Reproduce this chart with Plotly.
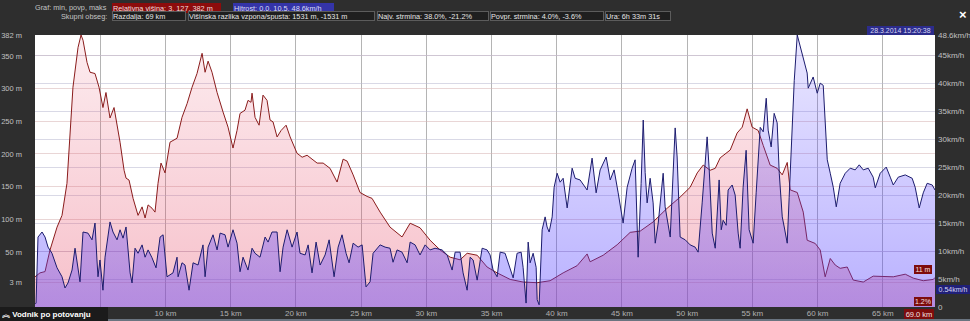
import plotly.graph_objects as go

# ---------------- data ----------------
elev_km = [0.0, 0.38, 0.77, 1.15, 1.69, 2.07, 2.45, 2.68, 2.91, 3.30, 3.53, 3.68, 3.99, 4.22, 4.60,
           4.91, 5.21, 5.44, 5.75, 6.06, 6.52, 6.83, 6.98, 7.21, 7.52, 7.90, 8.21, 8.44, 8.67, 8.97,
           9.20, 9.43, 9.66, 9.97, 10.35, 10.89, 11.27, 11.66, 12.04, 12.42, 12.81, 13.04, 13.27,
           13.57, 13.96, 14.42, 14.80, 15.18, 15.49, 15.72, 16.10, 16.33, 16.56, 16.64, 16.87,
           17.18, 17.48, 17.79, 18.02, 18.25, 18.56, 18.87, 19.25, 19.56, 20.09, 20.48, 20.86,
           21.63, 22.09, 22.62, 23.16, 23.62, 23.93, 24.39, 24.92, 25.46, 25.84, 26.46, 27.22,
           28.14, 28.76, 29.52, 30.29, 31.06, 31.83, 32.59, 33.13, 33.90, 34.66, 35.43, 36.43,
           37.42, 38.50, 39.49, 40.49, 41.56, 42.33, 42.56, 43.56, 44.63, 45.63, 46.40, 47.39,
           48.47, 49.46, 50.23, 50.77, 51.23, 51.76, 52.15, 52.53, 53.30, 53.83, 54.22, 54.60,
           54.98, 55.44, 55.83, 56.36, 56.90, 57.29, 57.67, 57.90, 58.44, 58.90, 59.20, 59.82,
           60.20, 60.58, 60.97, 61.35, 61.73, 62.27, 62.73, 63.50, 64.26, 65.03, 65.80, 66.72,
           67.33, 68.10, 68.87, 69.0]
elev_m = [12, 18, 20, 53, 88, 106, 155, 236, 302, 363, 382, 374, 340, 325, 323,
          302, 271, 294, 255, 271, 218, 175, 163, 160, 132, 106, 119, 102, 122, 117,
          111, 155, 186, 171, 218, 224, 256, 277, 302, 323, 354, 325, 342,
          325, 294, 264, 241, 209, 236, 262, 267, 282, 279, 293, 256,
          244, 290, 282, 252, 249, 226, 236, 244, 226, 201, 195, 198,
          186, 186, 178, 157, 192, 189, 168, 141, 135, 132, 111, 88,
          73, 94, 87, 68, 53, 42, 38, 48, 45, 27, 18, 8,
          4, 3, 6, 18, 29, 47, 35, 45, 61, 80, 82, 96,
          117, 134, 149, 171, 183, 175, 178, 194, 206, 232, 241, 269,
          241, 236, 213, 183, 178, 168, 187, 145, 141, 111, 68, 63,
          53, 12, 40, 30, 25, 27, 7, 4, 13, 12, 12, 16,
          10, 6, 8, 11]

speed_km = [0.0, 0.08, 0.23, 0.54, 0.77, 1.00, 1.30, 1.69, 2.07, 2.30, 2.53, 2.84, 3.07, 3.22, 3.45,
            3.68, 4.06, 4.37, 4.60, 4.75, 4.83, 4.98, 5.21, 5.37, 5.75, 5.98, 6.29, 6.52, 6.75,
            6.98, 7.29, 7.44, 7.67, 7.90, 8.21, 8.44, 8.67, 8.97, 9.28, 9.59, 9.82, 10.12, 10.35,
            10.58, 10.89, 10.97, 11.27, 11.50, 11.81, 12.12, 12.50, 12.88, 13.04, 13.27, 13.65,
            13.96, 14.19, 14.57, 14.80, 15.18, 15.49, 15.72, 15.95, 16.33, 16.64, 16.87, 17.25,
            17.64, 17.87, 18.17, 18.56, 18.79, 19.02, 19.33, 19.71, 20.09, 20.32, 20.71, 20.94,
            21.24, 21.55, 21.86, 22.24, 22.55, 22.93, 23.24, 23.54, 23.85, 24.08, 24.39, 24.77,
            25.08, 25.38, 25.69, 25.92, 26.46, 26.84, 27.22, 27.45, 27.76, 28.14, 28.53, 28.76,
            29.14, 29.52, 29.91, 30.29, 30.67, 31.21, 31.60, 31.98, 32.21, 32.59, 32.82, 33.13,
            33.36, 33.59, 33.90, 34.28, 34.66, 34.89, 35.12, 35.43, 35.66, 36.04, 36.27, 36.66,
            36.96, 37.27, 37.42, 37.65, 37.81, 37.96, 38.19, 38.42, 38.50, 38.65, 38.88, 39.11,
            39.26, 39.42, 39.65, 39.80, 40.03, 40.26, 40.49, 40.80, 41.18, 41.41, 41.79, 42.33,
            42.71, 43.02, 43.33, 43.79, 44.10, 44.40, 44.71, 45.09, 45.40, 45.78, 46.01, 46.24,
            46.47, 46.63, 46.78, 46.93, 47.16, 47.39, 47.55, 47.78, 48.16, 48.31, 48.70, 48.93,
            49.08, 49.23, 49.46, 49.85, 50.23, 50.61, 50.84, 51.15, 51.53, 51.69, 51.92, 52.15,
            52.45, 52.61, 52.76, 52.99, 53.14, 53.45, 53.68, 53.91, 54.06, 54.29, 54.52, 54.75,
            55.06, 55.29, 55.60, 55.83, 56.06, 56.21, 56.44, 56.67, 56.90, 57.06, 57.29, 57.44,
            57.67, 57.82, 58.05, 58.21, 58.44, 58.67, 58.90, 59.20, 59.28, 59.51, 59.66, 59.97,
            60.20, 60.43, 60.74, 60.97, 61.20, 61.43, 61.73, 62.12, 62.50, 62.88, 63.19, 63.50,
            63.88, 64.26, 64.42, 64.80, 65.26, 65.57, 65.80, 66.18, 66.72, 67.25, 67.48, 67.79,
            68.10, 68.40, 68.79, 69.00]
speed_kmh = [0.5, 0.7, 12.5, 13.4, 12.5, 10.7, 9.6, 7.0, 5.4, 3.4, 4.3, 6.6, 10.5, 7.9, 4.5,
             13.4, 13.2, 12.0, 15.0, 8.4, 5.4, 8.4, 3.0, 8.9, 15.2, 13.4, 12.0, 13.8, 12.3,
             14.3, 6.1, 4.3, 10.5, 9.6, 11.1, 8.9, 10.2, 8.8, 7.0, 12.5, 12.9, 5.4, 5.7,
             6.1, 8.9, 5.4, 7.9, 7.5, 3.0, 7.9, 7.5, 11.1, 5.4, 10.7, 12.9,
             10.2, 13.2, 12.9, 10.7, 13.8, 11.4, 6.3, 8.9, 6.6, 10.5, 9.6, 8.9,
             12.5, 11.6, 13.4, 13.4, 6.3, 10.7, 13.8, 10.7, 13.4, 9.6, 9.3, 11.1,
             6.1, 11.6, 7.5, 9.3, 12.0, 5.4, 10.7, 12.9, 9.6, 7.9, 11.4, 10.7,
             11.1, 3.6, 4.5, 9.6, 11.1, 10.7, 10.5, 8.0, 10.2, 9.8, 7.9, 11.6,
             11.1, 9.3, 11.1, 10.2, 10.5, 10.2, 9.3, 6.6, 9.8, 9.8, 6.1, 3.0,
             8.9, 8.4, 4.8, 10.5, 10.2, 9.3, 6.6, 5.4, 9.8, 9.6, 8.0, 5.2,
             9.6, 9.8, 7.1, 0.7, 11.6, 7.9, 9.6, 7.1, 1.3, 0.4, 13.8, 16.1,
             14.3, 13.4, 16.1, 21.4, 23.9, 22.3, 23.0, 17.7, 24.8, 23.0, 22.7, 20.9,
             26.6, 20.4, 24.5, 26.8, 22.7, 24.5, 20.4, 15.0, 21.4, 24.8, 26.3, 8.9,
             22.1, 33.4, 24.0, 18.6, 23.0, 18.6, 11.4, 15.0, 23.9, 17.9, 12.5, 24.5,
             32.0, 26.8, 12.5, 12.0, 11.1, 10.7, 9.8, 18.6, 30.4, 24.5, 13.2, 10.5,
             22.7, 13.8, 15.5, 14.6, 20.9, 21.8, 20.0, 13.2, 10.5, 21.4, 28.0, 13.8,
             11.4, 20.4, 32.1, 31.3, 37.3, 31.6, 28.6, 34.6, 32.9, 23.9, 16.1, 14.3,
             11.4, 19.6, 31.6, 40.5, 48.6, 46.4, 44.6, 41.8, 39.1, 40.5, 41.1, 38.2,
             40.0, 39.6, 26.3, 23.9, 21.4, 17.9, 22.1, 23.9, 24.8, 24.5, 25.4, 24.5,
             24.8, 23.2, 21.3, 23.9, 25.0, 23.2, 21.8, 23.2, 23.6, 23.0, 21.4, 17.7,
             20.4, 22.1, 21.8, 20.9]

elev_ticks = [3, 50, 100, 150, 200, 250, 300, 350, 382]
elev_ticktext = ["3 m", "50 m", "100 m", "150 m", "200 m", "250 m", "300 m", "350 m", "382 m"]
speed_ticks = [0, 5, 10, 15, 20, 25, 30, 35, 40, 45, 48.6]
speed_ticktext = ["0", "5km/h", "10km/h", "15km/h", "20km/h", "25km/h", "30km/h", "35km/h",
                  "40km/h", "45km/h", "48.6km/h"]
km_ticks = [5, 10, 15, 20, 25, 30, 35, 40, 45, 50, 55, 60, 65]
# the 5 km label sits under the "Vodnik po potovanju" button in the original
km_ticktext = [""] + [f"{k} km" for k in km_ticks[1:]]

ELEV_RANGE = [-34.2, 382]
SPEED_RANGE = [0, 48.6]
KM_RANGE = [0, 69]

# ---------------- figure ----------------
W, H = 970, 321
ML, MR, MT, MB = 35, 35, 35, 14
PW, PH = W - ML - MR, H - MT - MB
FONT = "Liberation Sans, Arial, Noto Sans CJK SC, sans-serif"
BG = "#2e2e2e"

fig = go.Figure()

# baseline for elevation fill (bottom of the elevation axis)
fig.add_trace(go.Scatter(x=[KM_RANGE[0], KM_RANGE[1]], y=[ELEV_RANGE[0], ELEV_RANGE[0]],
                         mode="lines", line=dict(width=0), hoverinfo="skip", showlegend=False))
fig.add_trace(go.Scatter(
    x=elev_km, y=elev_m, mode="lines", fill="tonexty",
    line=dict(color="#8a1c1c", width=1),
    fillgradient=dict(type="vertical",
                      colorscale=[[0, "rgba(230,70,100,0.34)"], [1, "rgba(230,70,100,0.10)"]]),
    showlegend=False, name="Relativna višina"))

fig.add_trace(go.Scatter(
    x=speed_km, y=speed_kmh, mode="lines", fill="tozeroy", yaxis="y2",
    line=dict(color="#1c1c6e", width=1),
    fillgradient=dict(type="vertical",
                      colorscale=[[0, "rgba(80,60,255,0.40)"], [1, "rgba(80,60,255,0.12)"]]),
    showlegend=False, name="Hitrost"))

fig.update_layout(
    width=W, height=H,
    margin=dict(l=ML, r=MR, t=MT, b=MB, pad=0, autoexpand=False),
    paper_bgcolor=BG, plot_bgcolor="white",
    font=dict(family=FONT, size=8, color="#c4c4c4"),
    showlegend=False,
    xaxis=dict(range=KM_RANGE, tickvals=km_ticks, ticktext=km_ticktext, automargin=False,
               showgrid=True, gridcolor="#b4b4b4", gridwidth=1, zeroline=False,
               showline=False, ticks="", tickfont=dict(size=8, color="#b0b0b0"),
               ticklabelstandoff=0),
    yaxis=dict(range=ELEV_RANGE, tickvals=elev_ticks, ticktext=elev_ticktext, automargin=False,
               showgrid=True, gridcolor="rgba(215,180,180,0.55)", gridwidth=1, zeroline=False,
               showline=False, ticks="", tickfont=dict(size=7.5, color="#c0c0c0"),
               ticklabelstandoff=12),
    yaxis2=dict(range=SPEED_RANGE, tickvals=speed_ticks, ticktext=speed_ticktext,
                overlaying="y", side="right", automargin=False,
                showgrid=True, gridcolor="rgba(185,185,210,0.55)", gridwidth=1, zeroline=False,
                showline=False, ticks="", tickfont=dict(size=8, color="#c0c0c0"),
                ticklabelstandoff=2),
)


def px(x):
    return (x - ML) / PW


def py(y):
    return (H - MB - y) / PH


anns = []


def label(text, x, y, anchor="left", color="#c4c4c4", size=7.3, bold=False):
    t = f"<b>{text}</b>" if bold else text
    anns.append(dict(text=t, x=px(x), y=py(y), xref="paper", yref="paper",
                     xanchor=anchor, yanchor="middle", showarrow=False,
                     font=dict(size=size, color=color, family=FONT)))


def box(text, x0, x1, y, bg, border, color="#e6e6e6", size=7.3, h=8, bold=False, align="left"):
    t = f"<b>{text}</b>" if bold else text
    anns.append(dict(text=t, x=px(x0), y=py(y), xref="paper", yref="paper",
                     xanchor="left", yanchor="middle", showarrow=False,
                     width=x1 - x0 - 4, height=h, align=align, valign="middle",
                     bgcolor=bg, bordercolor=border, borderwidth=1, borderpad=0,
                     font=dict(size=size, color=color, family=FONT)))


# header row 1
label("Graf: min, povp, maks", 109, 7.5, anchor="right")
box("Relativna višina: 3, 127, 382 m", 112, 223, 7.5, "#8c0c0c", "#8c0c0c", color="#f2dede")
box("Hitrost: 0.0, 10.5, 48.6km/h", 233, 336, 7.5, "#3434a8", "#3434a8", color="#dcdcf6")
# header row 2
label("Skupni obseg:", 109, 16.5, anchor="right")
box("Razdalja: 69 km", 112, 188, 16.5, "#1f1f1f", "#5c5c5c")
box("Višinska razlika vzpona/spusta: 1531 m, -1531 m", 188, 377, 16.5, "#1f1f1f", "#5c5c5c")
box("Najv. strmina: 38.0%, -21.2%", 377, 491, 16.5, "#1f1f1f", "#5c5c5c")
box("Povpr. strmina: 4.0%, -3.6%", 490, 606, 16.5, "#1f1f1f", "#5c5c5c")
box("Ura: 6h 33m 31s", 605, 673, 16.5, "#1f1f1f", "#5c5c5c")
# close button
label("×", 963, 14, anchor="center", color="#ffffff", size=13, bold=True)
# date box
box("28.3.2014 15:20:38", 867, 936, 30.5, "#2c2c8c", "#2c2c8c", color="#d6d6f4", size=7, h=7, align="center")
# right-side value boxes
box("11 m", 914, 934, 269, "#7e0c0c", "#7e0c0c", color="#f2e0e0", size=7, h=7, align="center")
box("0.54km/h", 936, 972, 289, "#202078", "#202078", color="#d8d8f4", size=7, h=7, align="center")
box("1.2%", 914, 934, 301, "#7e0c0c", "#7e0c0c", color="#f2e0e0", size=7, h=7, align="center")
box("69.0 km", 904, 936, 313.5, "#7e0c0c", "#7e0c0c", color="#f2e0e0", size=7.5, h=8, align="center")
# bottom-left button
anns.append(dict(text="<b>︽ Vodnik po potovanju</b>", x=px(0), y=py(314), xref="paper", yref="paper",
                 xanchor="left", yanchor="middle", showarrow=False,
                 width=104, height=11, align="left", valign="middle",
                 bgcolor="#1b1b1b", bordercolor="#1b1b1b", borderwidth=1, borderpad=1,
                 font=dict(size=8, color="#ffffff", family=FONT)))

fig.update_layout(annotations=anns)

# thin light strip at the very bottom of the widget
fig.add_shape(type="rect", xref="paper", yref="paper",
              x0=px(0), x1=px(W), y0=py(H), y1=py(H - 2),
              fillcolor="#6a7480", line=dict(width=0), layer="above")

fig.write_html("out.html")
